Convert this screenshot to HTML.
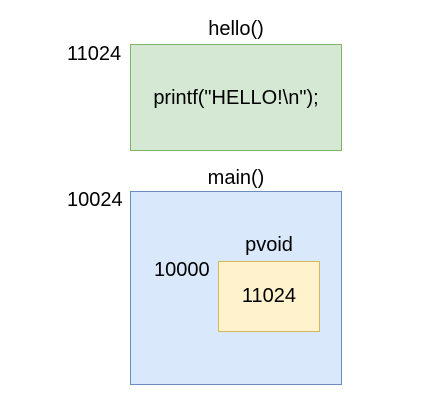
<!DOCTYPE html>
<html><head><style>
body{margin:0;width:427px;height:403px;background:#fff;position:relative;font-family:"Liberation Sans",sans-serif;font-size:20px;color:#000}
div{position:absolute;box-sizing:border-box}
.t{white-space:nowrap;line-height:22px}
</style></head><body>
<div style="left:130px;top:44px;width:212px;height:107px;background:#d5e8d4;border:1.5px solid #82b366"></div>
<div style="left:130px;top:191px;width:212px;height:194px;background:#dae8fc;border:1.5px solid #6c8ebf"></div>
<div style="left:218px;top:261px;width:102px;height:71px;background:#fff2cc;border:1.5px solid #d6b656"></div>
<div class="t" style="left:130px;width:212px;text-align:center;top:18px">hello()</div>
<div class="t" style="left:67px;top:43px">11024</div>
<div class="t" style="left:130px;width:212px;text-align:center;top:87px">printf("HELLO!\n");</div>
<div class="t" style="left:130px;width:212px;text-align:center;top:167px">main()</div>
<div class="t" style="left:67px;top:189px">10024</div>
<div class="t" style="left:218px;width:102px;text-align:center;top:234px">pvoid</div>
<div class="t" style="left:154px;top:259px">10000</div>
<div class="t" style="left:218px;width:102px;text-align:center;top:285px">11024</div>
</body></html>
